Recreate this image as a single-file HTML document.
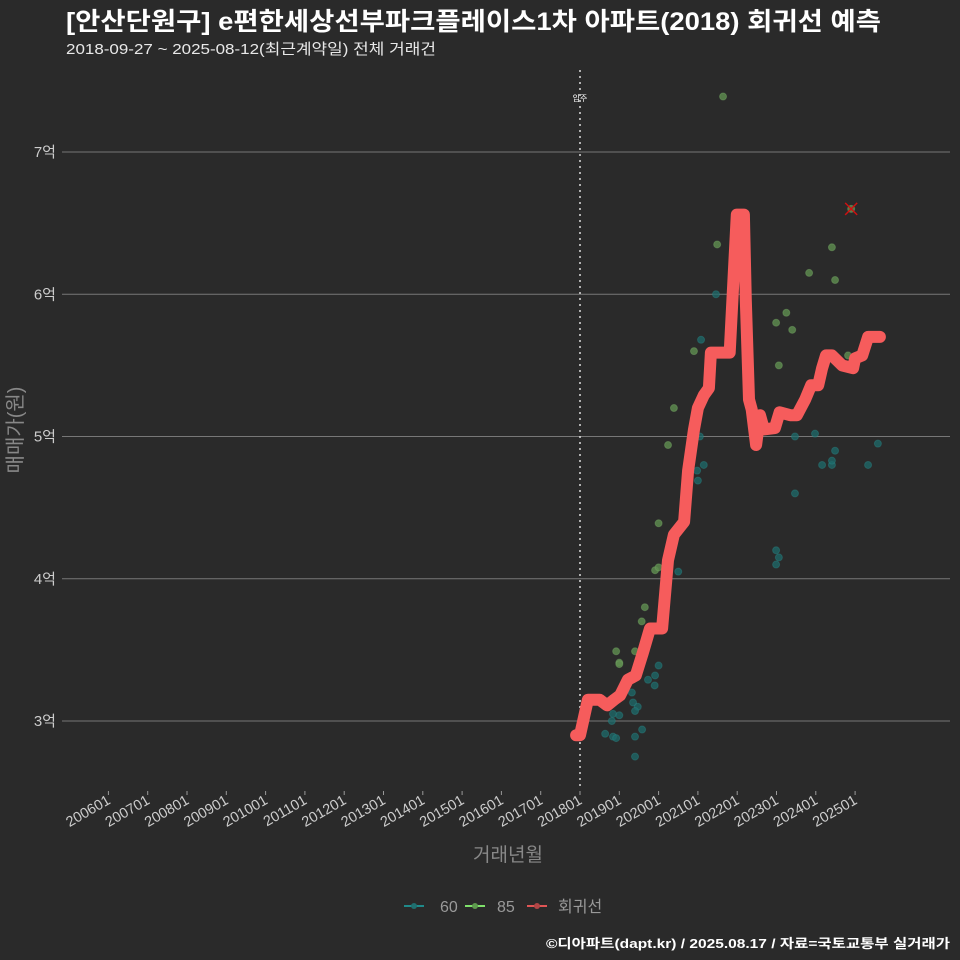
<!DOCTYPE html>
<html><head><meta charset="utf-8"><style>
body{margin:0;background:#2a2a2a;}
svg{display:block;font-family:"Liberation Sans","Noto Sans CJK KR",sans-serif;}
</style></head><body>
<svg id="chart" width="960" height="960" viewBox="0 0 960 960" xmlns="http://www.w3.org/2000/svg">
<rect width="960" height="960" fill="#2a2a2a"/>
<text x="66" y="30" font-size="25" font-weight="bold" fill="#ffffff" textLength="815" lengthAdjust="spacingAndGlyphs">[안산단원구] e편한세상선부파크플레이스1차 아파트(2018) 회귀선 예측</text>
<text x="66" y="54" font-size="15" fill="#e8e8e8" textLength="370" lengthAdjust="spacingAndGlyphs">2018-09-27 ~ 2025-08-12(최근계약일) 전체 거래건</text>
<g id="grid"></g>
<g id="yaxis"></g>
<g id="xaxis"></g>
<line x1="580" y1="70" x2="580" y2="790" stroke="#dddddd" stroke-width="1.5" stroke-dasharray="2,4"/>
<text x="580" y="101" font-size="8" fill="#ffffff" text-anchor="middle">입주</text>
<g id="pts"></g>
<path id="reg" fill="none" stroke="#f65c5c" stroke-width="12" stroke-linejoin="round" stroke-linecap="round"/>
<g id="mark"></g>
<text x="22" y="430" font-size="20" fill="#888888" text-anchor="middle" transform="rotate(-90 22 430)">매매가(원)</text>
<text x="508" y="861" font-size="19" fill="#888888" text-anchor="middle">거래년월</text>
<g>
<g><line x1="404" y1="906" x2="424" y2="906" stroke="#1f8a8a" stroke-width="2"/><circle cx="414" cy="906" r="3" fill="#1f6f6f"/><text x="440" y="912" font-size="16" fill="#999">60</text></g>
<g><line x1="465" y1="906" x2="485" y2="906" stroke="#7ee06a" stroke-width="2"/><circle cx="475" cy="906" r="3" fill="#5e9a4e"/><text x="497" y="912" font-size="16" fill="#999">85</text></g>
<g><line x1="527" y1="906" x2="547" y2="906" stroke="#e05555" stroke-width="2"/><circle cx="537" cy="906" r="3" fill="#b04545"/><text x="558" y="912" font-size="16" fill="#999">회귀선</text></g>
</g>
<text x="950" y="948" font-size="13" font-weight="bold" fill="#ffffff" text-anchor="end" textLength="404" lengthAdjust="spacingAndGlyphs">©디아파트(dapt.kr) / 2025.08.17 / 자료=국토교통부 실거래가</text>
</svg>
<script>
const yTicks=[3,4,5,6,7];
const yTickLabels=["3억","4억","5억","6억","7억"];
const xTickYears=[2006,2007,2008,2009,2010,2011,2012,2013,2014,2015,2016,2017,2018,2019,2020,2021,2022,2023,2024,2025];
const xTickLabels=["200601","200701","200801","200901","201001","201101","201201","201301","201401","201501","201601","201701","201801","201901","202001","202101","202201","202301","202401","202501"];
const s60T=[2021.46,2021.08,2021.05,2021.15,2021.0,2020.98,2023.47,2023.98,2024.16,2024.41,2024.41,2024.49,2025.58,2025.33,2023.47,2022.99,2023.06,2022.99,2020.5,2020.0,2019.91,2019.9,2019.73,2019.32,2019.35,2019.47,2019.4,2018.84,2019.0,2018.81,2018.64,2018.84,2018.92,2019.4,2019.58,2019.4];
const s60V=[6.0,5.68,5.0,4.8,4.69,4.76,5.0,5.02,4.8,4.8,4.83,4.9,4.95,4.8,4.6,4.2,4.15,4.1,4.05,3.39,3.32,3.25,3.29,3.2,3.13,3.1,3.07,3.05,3.04,3.0,2.91,2.89,2.88,2.89,2.94,2.75];
const s85T=[2021.64,2021.49,2023.83,2024.41,2024.49,2022.99,2023.25,2023.4,2023.06,2020.9,2020.39,2020.24,2024.9,2024.82,2020.0,2019.91,2020.0,2019.65,2019.57,2019.4,2018.92,2019.0,2019.0];
const s85V=[7.39,6.35,6.15,6.33,6.10,5.80,5.87,5.75,5.50,5.60,5.20,4.94,6.6,5.57,4.39,4.06,4.08,3.80,3.70,3.49,3.49,3.41,3.40];
const regT=[2017.9,2018.0,2018.2,2018.5,2018.69,2018.87,2019.02,2019.22,2019.42,2019.6,2019.78,2020.09,2020.24,2020.39,2020.65,2020.75,2020.9,2021.0,2021.15,2021.28,2021.33,2021.81,2021.99,2022.17,2022.22,2022.3,2022.37,2022.48,2022.58,2022.68,2022.96,2023.08,2023.35,2023.52,2023.73,2023.88,2024.06,2024.16,2024.26,2024.41,2024.67,2024.95,2025.0,2025.18,2025.33,2025.63];
const regV=[2.90,2.90,3.15,3.15,3.11,3.15,3.18,3.29,3.32,3.48,3.65,3.65,4.13,4.31,4.40,4.76,5.05,5.20,5.29,5.34,5.59,5.59,6.56,6.56,5.96,5.26,5.19,4.94,5.15,5.05,5.06,5.17,5.15,5.15,5.26,5.36,5.36,5.48,5.57,5.57,5.50,5.48,5.55,5.57,5.70,5.70];
const latestT=[2024.9], latestV=[6.6];

const NS="http://www.w3.org/2000/svg";
const X=t=>580+(t-2018)*39.3;
const Y=v=>721-(v-3)*142.25;
function mk(tag,attrs,parent){const e=document.createElementNS(NS,tag);for(const k in attrs)e.setAttribute(k,attrs[k]);parent.appendChild(e);return e;}
const grid=document.getElementById('grid'),ya=document.getElementById('yaxis'),xa=document.getElementById('xaxis');
yTicks.forEach((v,i)=>{
 const l=mk('line',{x1:62,x2:950,y1:Y(v),y2:Y(v),stroke:'#777',"stroke-width":1},grid);
 
 
 const t=mk('text',{x:56,y:Y(v)+5,"font-size":15,fill:'#cccccc',"text-anchor":'end'},ya);
 t.textContent=yTickLabels[i];
 
 
});
xTickYears.forEach((yr,i)=>{
 const x=X(yr);
 const tk=mk('line',{x1:x,x2:x,y1:791,y2:795,stroke:'#999'},xa);
 
 
 const t=mk('text',{x:x+3,y:803,"font-size":14.5,fill:'#cccccc',"text-anchor":'end',transform:`rotate(-30 ${x+3} 803)`},xa);
 t.textContent=xTickLabels[i];
 
 
});
const pts=document.getElementById('pts');
s60T.forEach((t,i)=>{
 const c=mk('circle',{cx:X(t),cy:Y(s60V[i]),r:3.5,fill:'#1d6b6b',"fill-opacity":0.75,stroke:'#2a8a8a',"stroke-opacity":0.4},pts);
 
 
});
s85T.forEach((t,i)=>{
 const c=mk('circle',{cx:X(t),cy:Y(s85V[i]),r:3.5,fill:'#5f8f50',"fill-opacity":0.8,stroke:'#7ab06a',"stroke-opacity":0.4},pts);
 
 
});
document.getElementById('reg').setAttribute('d',regT.map((t,i)=>(i?'L':'M')+X(t).toFixed(1)+','+Y(regV[i]).toFixed(1)).join(''));
const mg=document.getElementById('mark');
latestT.forEach((t,i)=>{
 const x=X(t),y=Y(latestV[i]);
 const p=mk('path',{d:`M${x-6},${y-6}L${x+6},${y+6}M${x-6},${y+6}L${x+6},${y-6}`,stroke:'#d01010',"stroke-width":1.5},mg);
 
 
});
</script>
</body></html>
